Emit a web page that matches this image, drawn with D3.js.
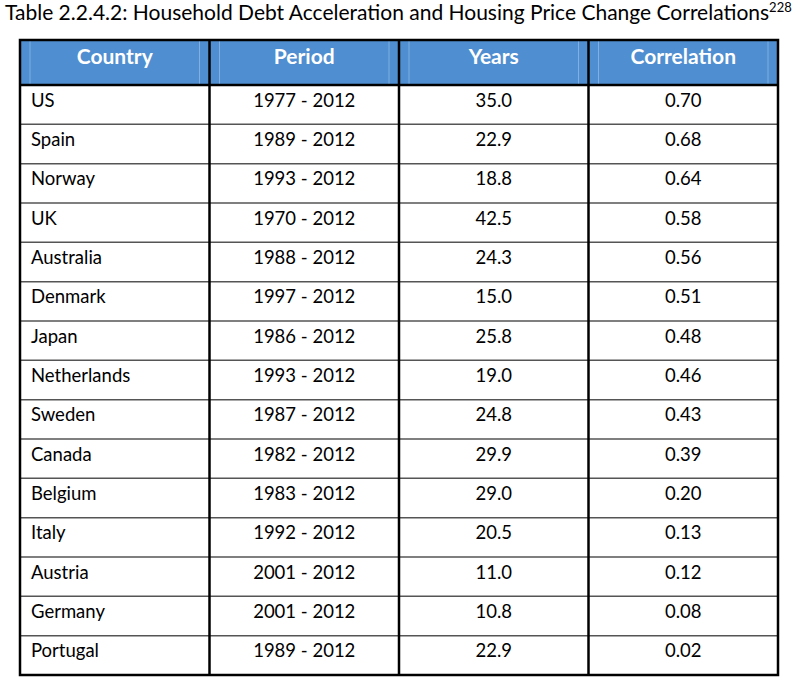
<!DOCTYPE html>
<html><head><meta charset="utf-8">
<script src="https://cdn.jsdelivr.net/npm/d3@7"></script>
<style>body{margin:0;background:#fff}svg{display:block}</style>
</head><body>
<script>
const columns = ["Country", "Period", "Years", "Correlation"];
const countries = ["US","Spain","Norway","UK","Australia","Denmark","Japan","Netherlands","Sweden","Canada","Belgium","Italy","Austria","Germany","Portugal"];
const periods = ["1977 - 2012","1989 - 2012","1993 - 2012","1970 - 2012","1988 - 2012","1997 - 2012","1986 - 2012","1993 - 2012","1987 - 2012","1982 - 2012","1983 - 2012","1992 - 2012","2001 - 2012","2001 - 2012","1989 - 2012"];
const years = [35.0,22.9,18.8,42.5,24.3,15.0,25.8,19.0,24.8,29.9,29.0,20.5,11.0,10.8,22.9];
const correlations = [0.70,0.68,0.64,0.58,0.56,0.51,0.48,0.46,0.43,0.39,0.20,0.13,0.12,0.08,0.02];
const titleText = "Table 2.2.4.2: Household Debt Acceleration and Housing Price Change Correlations";
const footnote = "228";

const W = 802, H = 680;
const font = "Lato, 'Open Sans', sans-serif";
const svg = d3.select("body").append("svg").attr("width", W).attr("height", H);

const x = d3.scaleBand().domain(columns).range([20, 778]);
const y = d3.scaleBand().domain(countries).range([85, 675]);
const headTop = 40, headBottom = 85;

// title
const t = svg.append("text").attr("x", 5).attr("y", 19.5).attr("font-family", font)
  .attr("font-size", 21).attr("fill", "#000");
t.append("tspan").text(titleText);
t.append("tspan").attr("dy", -8).attr("font-size", 13).text(footnote);

// header
svg.append("rect").attr("x", 20).attr("y", headTop).attr("width", 758).attr("height", headBottom - headTop).attr("fill", "#4f8ed0");
columns.forEach(c => {
  [x(c) + 10, x(c) + x.bandwidth() - 10].forEach(px => {
    svg.append("line").attr("x1", px).attr("x2", px).attr("y1", headTop).attr("y2", headBottom)
      .attr("stroke", "#7fb0e0").attr("stroke-width", 1);
  });
});
svg.selectAll("text.head").data(columns).join("text").attr("class", "head")
  .attr("x", d => x(d) + x.bandwidth() / 2).attr("y", 64)
  .attr("text-anchor", "middle").attr("font-family", font).attr("font-weight", "bold")
  .attr("font-size", 21).attr("fill", "#fff").text(d => d);

// rows
const rows = countries.map((c, i) => ({country: c, period: periods[i], years: years[i].toFixed(1), corr: correlations[i].toFixed(2)}));
const fs = 18.5;
const g = svg.selectAll("g.row").data(rows).join("g").attr("class", "row")
  .attr("transform", d => `translate(0,${y(d.country)})`);
g.append("text").attr("x", 31).attr("y", 21.5).attr("font-family", font).attr("font-size", fs).text(d => d.country);
g.append("text").attr("x", x("Period") + x.bandwidth()/2).attr("y", 21.5).attr("text-anchor", "middle").attr("font-family", font).attr("font-size", fs).text(d => d.period);
g.append("text").attr("x", x("Years") + x.bandwidth()/2).attr("y", 21.5).attr("text-anchor", "middle").attr("font-family", font).attr("font-size", fs).text(d => d.years);
g.append("text").attr("x", x("Correlation") + x.bandwidth()/2).attr("y", 21.5).attr("text-anchor", "middle").attr("font-family", font).attr("font-size", fs).text(d => d.corr);

// horizontal row lines
svg.selectAll("line.hr").data(countries.slice(1)).join("line").attr("class", "hr")
  .attr("x1", 20).attr("x2", 778).attr("y1", d => y(d)).attr("y2", d => y(d))
  .attr("stroke", "#555").attr("stroke-width", 1.5);
svg.append("line").attr("x1", 20).attr("x2", 778).attr("y1", headBottom).attr("y2", headBottom).attr("stroke", "#000").attr("stroke-width", 2.5);
svg.selectAll("line.vr").data(columns.slice(1)).join("line").attr("class", "vr")
  .attr("x1", d => x(d)).attr("x2", d => x(d)).attr("y1", headTop).attr("y2", 675)
  .attr("stroke", "#000").attr("stroke-width", 2.5);
svg.append("rect").attr("x", 20).attr("y", headTop).attr("width", 758).attr("height", 675 - headTop)
  .attr("fill", "none").attr("stroke", "#000").attr("stroke-width", 2.5);
</script>
</body></html>
